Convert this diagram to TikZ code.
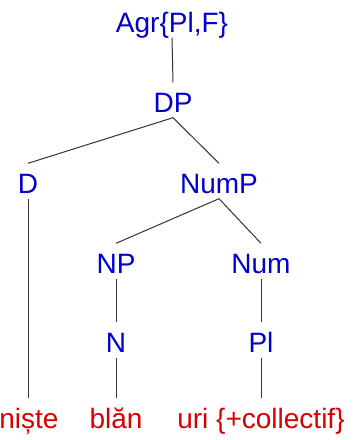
\documentclass[tikz,border=0pt]{standalone}
\usepackage{fontspec}
\setmainfont{Liberation Sans}
\definecolor{catblue}{RGB}{0,0,204}
\definecolor{wordred}{RGB}{214,0,0}
\begin{document}
\begin{tikzpicture}[x=1pt,y=-1pt,
  lab/.style={anchor=base,inner sep=1.5pt,text height=28pt,text depth=4pt,font=\fontsize{28}{30}\selectfont},
  cat/.style={lab,text=catblue},
  word/.style={lab,text=wordred},
  edge/.style={draw=black!80,line width=1pt}]
\useasboundingbox (0,0) rectangle (354,440);
\node[cat] (agr) at (172,32) {Agr\{Pl,F\}};
\node[cat] (dp) at (173,112) {DP};
\node[cat] (d) at (28,193) {D};
\node[cat] (nump) at (219,193) {NumP};
\node[cat] (np) at (116,273) {NP};
\node[cat] (num) at (261,273) {Num};
\node[cat] (n) at (116,352) {N};
\node[cat] (pl) at (261,352) {Pl};
\node[word] (niste) at (29,428) {niște};
\node[word] (blan) at (116,428) {blăn};
\node[word] (uri) at (261,428) {uri \{+collectif\}};
\draw[edge] (agr.south) -- (dp.north);
\draw[edge] (dp.south) -- (d.north);
\draw[edge] (dp.south) -- (nump.north);
\draw[edge] (nump.south) -- (np.north);
\draw[edge] (nump.south) -- (num.north);
\draw[edge] (np.south) -- (n.north);
\draw[edge] (num.south) -- (pl.north);
\draw[edge] (d.south) -- (niste.north -| d.south);
\draw[edge] (n.south) -- (blan.north);
\draw[edge] (pl.south) -- (uri.north);
\end{tikzpicture}
\end{document}
